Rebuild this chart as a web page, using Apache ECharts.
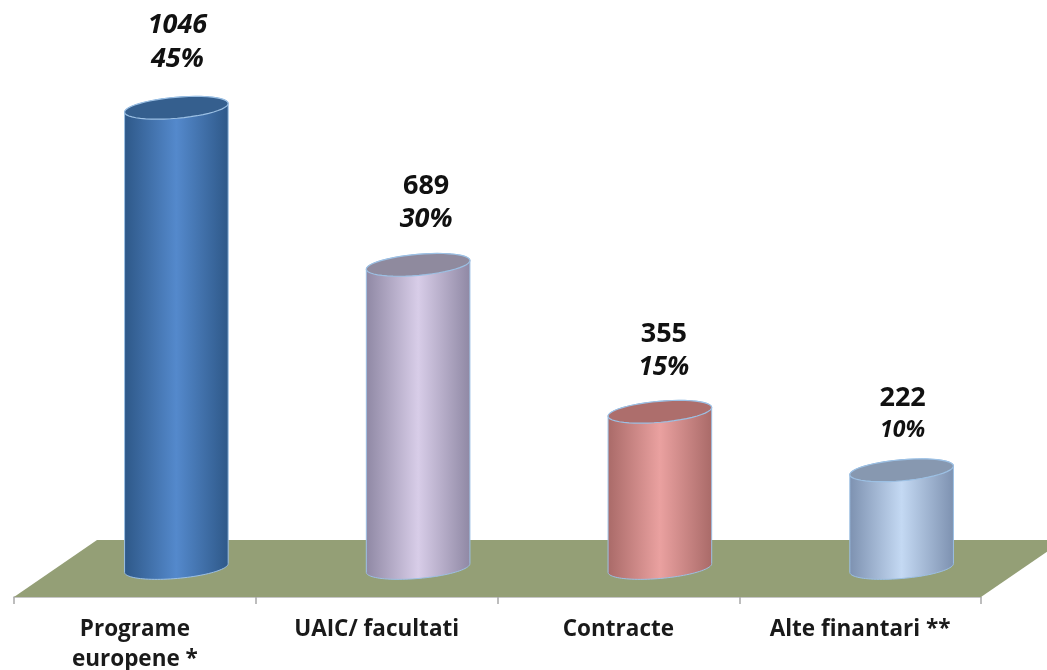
<!DOCTYPE html>
<html><head><meta charset="utf-8">
<style>html,body{margin:0;padding:0;background:#fff}#c{width:1047px;height:670px}</style>
<script src="https://cdn.jsdelivr.net/npm/echarts@6/dist/echarts.min.js"></script>
</head><body><div id="c"></div>
<script>
var categories = ['Programe\neuropene *', 'UAIC/ facultati', 'Contracte', 'Alte finantari **'];
var values = [1046, 689, 355, 222];
var percents = ['45%', '30%', '15%', '10%'];

var bodyEdge = ['#2e5888', '#8f88a4', '#a96a68', '#7d91b0'];
var bodyMid = ['#5489cc', '#d8cde8', '#eaa1a0', '#c4d9f3'];
var capFill = ['#355f8e', '#8f8a9e', '#ad6e6c', '#8798b0'];
var FONT = '"Open Sans", sans-serif';
var numStyle = ['italic', 'normal', 'normal', 'normal'];
var pctSize = [27, 27, 26, 23];
var lift = [[82, 48], [79, 46], [77, 44], [72, 40]];
var labelShift = [1, 8, 4, 1];

function ellipse(cx, cy, from, to) {
  var rx = 52, ry = 10.5, a = -5 * Math.PI / 180, pts = [], n = 48;
  for (var i = 0; i <= n; i++) {
    var t = from + (to - from) * i / n;
    pts.push([
      cx + rx * Math.cos(t) * Math.cos(a) - ry * Math.sin(t) * Math.sin(a),
      cy + rx * Math.cos(t) * Math.sin(a) + ry * Math.sin(t) * Math.cos(a)
    ]);
  }
  return pts;
}

function renderFloor(params, api) {
  var g = params.coordSys, by = g.y + g.height;
  return {
    type: 'polygon', silent: true,
    shape: { points: [[g.x, by], [g.x + 83, by - 57], [g.x + g.width + 83, by - 57], [g.x + g.width, by]] },
    style: { fill: '#949f76' }
  };
}

function renderCyl(params, api) {
  var i = api.value(0);
  var top = api.coord([i, api.value(1)]);
  var base = api.coord([i, 0]);
  var cx = top[0] + 41.5;
  var body = ellipse(cx, base[1], Math.PI, 0).concat(ellipse(cx, top[1], 0, -Math.PI));
  var grad = new echarts.graphic.LinearGradient(0, 0, 1, 0, [
    { offset: 0, color: bodyEdge[i] }, { offset: 0.5, color: bodyMid[i] }, { offset: 1, color: bodyEdge[i] }
  ]);
  return {
    type: 'group',
    children: [
      { type: 'polygon', shape: { points: body }, style: { fill: grad, stroke: '#9cc0e4', lineWidth: 1 } },
      { type: 'polygon', shape: { points: ellipse(cx, top[1], 0, Math.PI * 2) }, style: { fill: capFill[i], stroke: '#9cc0e4', lineWidth: 1.2 } },
      { type: 'text', style: { x: cx + labelShift[i], y: top[1] - lift[i][0], text: String(values[i]), fill: '#111',
          font: numStyle[i] + ' bold 27px ' + FONT, textAlign: 'center', textVerticalAlign: 'middle' } },
      { type: 'text', style: { x: cx + labelShift[i], y: top[1] - lift[i][1], text: percents[i], fill: '#111',
          font: 'italic bold ' + pctSize[i] + 'px ' + FONT, textAlign: 'center', textVerticalAlign: 'middle' } }
    ]
  };
}

var chart = echarts.init(document.getElementById('c'), null, { renderer: 'canvas' });
chart.setOption({
  animation: false,
  backgroundColor: '#fff',
  grid: { left: 14, right: 66, top: 0, height: 597, outerBoundsMode: 'none' },
  xAxis: {
    type: 'category', data: categories,
    axisLine: { show: true, onZero: false, lineStyle: { color: '#b4b4b4', width: 1.5 } },
    axisTick: { show: true, length: 7, lineStyle: { color: '#a8a8a8', width: 1.5 } },
    axisLabel: { color: '#1a1a1a', fontFamily: FONT, fontWeight: 'bold', fontSize: 22.5, lineHeight: 30, margin: 18, interval: 0 }
  },
  yAxis: { type: 'value', min: -66, max: 1291, show: false },
  series: [
    { type: 'custom', renderItem: renderFloor, data: [[0, 0]], z: 1, silent: true, clip: false },
    { type: 'custom', renderItem: renderCyl, data: values.map(function (v, i) { return [i, v]; }),
      encode: { x: 0, y: 1 }, z: 3, clip: false }
  ]
});
</script></body></html>
